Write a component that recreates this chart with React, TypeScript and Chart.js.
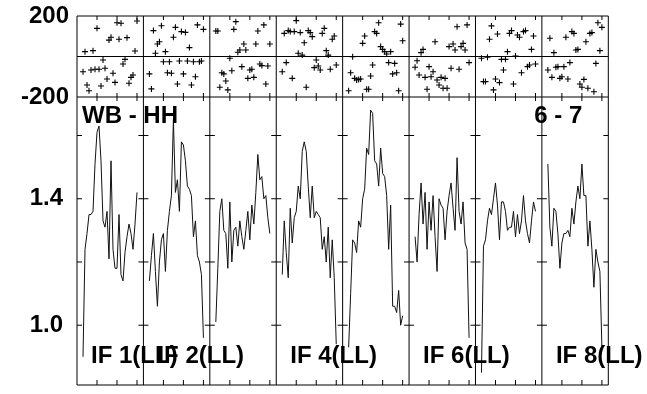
import React, { useEffect, useRef } from 'react';
import { Chart, registerables } from 'chart.js';

Chart.register(...registerables);

// ---- data ----
const PANEL_SPAN = 33.2; // channel units per IF panel
const CHANNELS = [3, 4, 5, 6, 7, 8, 9, 10, 11, 12, 13, 14, 15, 16, 17, 18, 19, 20, 21, 22, 23, 24, 25, 26, 27, 28, 29, 30];
const X_TICK_CHANNELS = [10, 20, 30];
const AMP_TICKS = [1.0, 1.2, 1.4, 1.6];
const AMP_LABELLED = [1.0, 1.4];
const AMP_MIN = 0.8109;
const AMP_MAX = 1.7218;
const PHASE_TICKS = [-200, 200];
const PHASE_MIN = -200;
const PHASE_MAX = 200;

const AMP_IF1 = [0.90, 1.24, 1.29, 1.35, 1.35, 1.36, 1.51, 1.61, 1.63, 1.52, 1.33, 1.31, 1.36, 1.21, 1.52, 1.24, 1.18, 1.18, 1.35, 1.16, 1.14, 1.23, 1.28, 1.32, 1.29, 1.24, 1.32, 1.42];
const AMP_IF2 = [1.14, 1.22, 1.29, 1.17, 1.06, 1.20, 1.27, 1.29, 1.17, 1.30, 1.36, 1.41, 1.65, 1.42, 1.46, 1.36, 1.58, 1.57, 1.52, 1.44, 1.43, 1.41, 1.28, 1.33, 1.22, 1.20, 1.16, 0.96];
const AMP_IF3 = [1.01, 1.18, 1.36, 1.40, 1.30, 1.29, 1.18, 1.39, 1.20, 1.30, 1.31, 1.25, 1.33, 1.28, 1.24, 1.30, 1.36, 1.27, 1.38, 1.32, 1.42, 1.54, 1.46, 1.47, 1.40, 1.41, 1.34, 1.29];
const AMP_IF4 = [1.16, 1.33, 1.23, 1.15, 1.37, 1.26, 1.34, 1.36, 1.44, 1.40, 1.55, 1.58, 1.55, 1.44, 1.34, 1.44, 1.34, 1.36, 1.35, 1.34, 1.24, 1.28, 1.20, 1.31, 1.15, 1.27, 1.15, 0.94];
const AMP_IF5 = [0.93, 1.10, 1.27, 1.26, 1.23, 1.33, 1.31, 1.40, 1.43, 1.56, 1.54, 1.68, 1.67, 1.52, 1.51, 1.44, 1.56, 1.48, 1.47, 1.41, 1.24, 1.38, 1.06, 1.06, 1.04, 1.11, 1.00, 1.03];
const AMP_IF6 = [1.28, 1.20, 1.35, 1.45, 1.32, 1.42, 1.24, 1.39, 1.30, 1.41, 1.28, 1.17, 1.40, 1.38, 1.37, 1.27, 1.36, 1.41, 1.45, 1.37, 1.30, 1.53, 1.36, 1.32, 1.39, 1.26, 1.24, 0.96];
const AMP_IF7 = [0.85, 1.25, 1.27, 1.33, 1.37, 1.35, 1.40, 1.45, 1.38, 1.27, 1.39, 1.39, 1.36, 1.30, 1.31, 1.31, 1.36, 1.28, 1.35, 1.29, 1.33, 1.41, 1.33, 1.29, 1.26, 1.33, 1.39, 1.36];
const AMP_IF8 = [1.51, 1.31, 1.25, 1.37, 1.36, 1.29, 1.18, 1.26, 1.29, 1.29, 1.30, 1.28, 1.37, 1.32, 1.39, 1.44, 1.40, 1.51, 1.41, 1.41, 1.25, 1.33, 1.24, 1.12, 1.24, 1.20, 1.17, 0.93];

const PHASE_IF1 = [-75, 24, -141, -169, -67, 29, -63, 139, -63, -146, -17, -58, -111, 81, 95, -83, -128, 167, 85, 164, -37, -14, 93, -132, -103, -91, 27, 175];
const PHASE_IF2 = [-86, -160, 128, 16, 62, 73, 152, -26, 24, -80, -26, -83, 95, 144, -136, -22, 123, -86, 119, -22, 44, -141, -26, -100, 156, -26, -22, 134];
const PHASE_IF3 = [126, 126, -152, -80, -86, -121, -165, -9, -70, 134, 172, 21, 32, -50, 62, 32, -108, -67, -63, -103, 62, 126, -37, -45, 156, -136, -47, 62];
const PHASE_IF4 = [-75, 114, -30, 128, 123, -108, 123, 177, 16, 118, 7, 68, -152, 128, 118, 98, -55, -17, -47, -67, 114, 139, 29, 7, -63, 85, 101, -42];
const PHASE_IF5 = [-169, -80, -1, -108, -116, -113, -111, 65, 101, -162, -162, -96, -42, 123, 114, 167, 49, 35, 24, 12, -30, 24, -86, -34, -80, -169, 160, 78];
const PHASE_IF6 = [-53, -21, -91, 19, 35, -103, -162, -50, -100, -75, 73, -116, -141, -103, -157, -108, -157, 49, -58, 62, 32, 147, -63, 49, 65, 32, 156, -30];
const PHASE_IF7 = [-9, -124, -124, -4, 85, 151, -165, -111, 111, -129, -14, -67, -14, 24, 114, 128, -136, 2, 106, 95, -80, 123, 128, -50, -42, 35, 101, -37];
const PHASE_IF8 = [-67, 90, -103, 19, -53, -50, -108, -100, -50, 95, -111, -30, 123, 114, 32, 35, -136, -152, -113, 73, -157, 114, 118, -174, -34, 167, 29, 144];

const AMPLITUDES = [AMP_IF1, AMP_IF2, AMP_IF3, AMP_IF4, AMP_IF5, AMP_IF6, AMP_IF7, AMP_IF8];
const PHASES = [PHASE_IF1, PHASE_IF2, PHASE_IF3, PHASE_IF4, PHASE_IF5, PHASE_IF6, PHASE_IF7, PHASE_IF8];

const IF_LABELS = ['IF 1(LL)', 'IF 2(LL)', 'IF 4(LL)', 'IF 6(LL)', 'IF 8(LL)'];
const IF_LABEL_PANELS = [0, 1, 3, 5, 7];
const BASELINE_LABEL = 'WB - HH';
const TIME_LABEL = '6 - 7';

const FONT_FAMILY = '"Liberation Sans", Arial, Helvetica, sans-serif';
const N_PANELS = 8;

const framePlugin = {
  id: 'possmFrame',
  afterDatasetsDraw(chart: any) {
    const ctx = chart.ctx;
    const xs = chart.scales.x;
    const yp = chart.scales.yPh;
    const ya = chart.scales.yAmp;
    const px = (v: number) => xs.getPixelForValue(v);
    const left = px(0);
    const right = px(N_PANELS * PANEL_SPAN);
    const pTop = yp.getPixelForValue(PHASE_MAX);
    const pBot = yp.getPixelForValue(PHASE_MIN);
    const aTop = ya.getPixelForValue(AMP_MAX);
    const aBot = ya.getPixelForValue(AMP_MIN);
    ctx.save();
    ctx.strokeStyle = '#000';
    ctx.lineWidth = 1;
    ctx.beginPath();
    // outer frames
    ctx.moveTo(left, pTop);
    ctx.lineTo(right, pTop);
    ctx.moveTo(left, pBot);
    ctx.lineTo(right, pBot);
    ctx.moveTo(left, aBot);
    ctx.lineTo(right, aBot);
    ctx.moveTo(left, pTop);
    ctx.lineTo(left, aBot);
    ctx.moveTo(right, pTop);
    ctx.lineTo(right, aBot);
    // panel separators
    for (let k = 1; k < N_PANELS; k++) {
      const x = px(k * PANEL_SPAN);
      ctx.moveTo(x, pTop);
      ctx.lineTo(x, aBot);
    }
    // zero phase line
    const z = yp.getPixelForValue(0);
    ctx.moveTo(left, z);
    ctx.lineTo(right, z);
    // x ticks
    for (let k = 0; k < N_PANELS; k++) {
      for (const c of X_TICK_CHANNELS) {
        const x = px(k * PANEL_SPAN + c);
        ctx.moveTo(x, pTop);
        ctx.lineTo(x, pTop + 4);
        ctx.moveTo(x, pBot - 4);
        ctx.lineTo(x, pBot + 4);
        ctx.moveTo(x, aBot - 5);
        ctx.lineTo(x, aBot);
      }
    }
    // y ticks on amplitude panel
    for (const v of AMP_TICKS) {
      const y = ya.getPixelForValue(v);
      for (let k = 0; k <= N_PANELS; k++) {
        const x = px(k * PANEL_SPAN);
        const x0 = k === 0 ? x : x - 5;
        const x1 = k === N_PANELS ? x : x + 5;
        ctx.moveTo(x0, y);
        ctx.lineTo(x1, y);
      }
    }
    ctx.stroke();

    // text annotations
    ctx.fillStyle = '#000';
    ctx.font = `bold 24px ${FONT_FAMILY}`;
    ctx.textBaseline = 'alphabetic';
    ctx.textAlign = 'left';
    ctx.fillText(BASELINE_LABEL, left + 5, aTop + 26);
    IF_LABELS.forEach((label, i) => {
      ctx.fillText(label, px(IF_LABEL_PANELS[i] * PANEL_SPAN) + 14, aBot - 22);
    });
    ctx.textAlign = 'right';
    ctx.fillText(TIME_LABEL, right - 26, aTop + 26);
    ctx.restore();
  },
};

export default function App() {
  const canvasRef = useRef<HTMLCanvasElement | null>(null);

  useEffect(() => {
    const canvas = canvasRef.current;
    if (!canvas) return;

    const datasets: any[] = [];
    AMPLITUDES.forEach((amp, k) => {
      datasets.push({
        type: 'scatter',
        label: `amp ${k + 1}`,
        data: CHANNELS.map((c, i) => ({ x: k * PANEL_SPAN + c, y: amp[i] })),
        yAxisID: 'yAmp',
        showLine: true,
        borderColor: '#111',
        borderWidth: 1,
        pointRadius: 0,
        tension: 0,
      });
    });
    PHASES.forEach((ph, k) => {
      datasets.push({
        type: 'scatter',
        label: `phase ${k + 1}`,
        data: CHANNELS.map((c, i) => ({ x: k * PANEL_SPAN + c, y: ph[i] })),
        yAxisID: 'yPh',
        showLine: false,
        pointStyle: 'cross',
        pointRadius: 3,
        borderColor: '#000',
        backgroundColor: '#000',
        pointBorderWidth: 1.1,
      });
    });

    const tickFont = { family: FONT_FAMILY, size: 24, weight: 'bold' as const };
    const fitY = (s: any) => {
      s.width = 77;
      s.paddingTop = 0;
      s.paddingBottom = 0;
    };

    const chart = new Chart(canvas, {
      type: 'scatter',
      data: { datasets },
      options: {
        responsive: false,
        animation: false,
        layout: { padding: { left: 0, top: 16, right: 38.7, bottom: 9 } },
        plugins: {
          legend: { display: false },
          tooltip: { enabled: false },
        },
        scales: {
          x: {
            type: 'linear',
            display: false,
            min: 0,
            max: N_PANELS * PANEL_SPAN,
          },
          yAmp: {
            type: 'linear',
            position: 'left',
            stack: 'possm',
            stackWeight: 288,
            min: AMP_MIN,
            max: AMP_MAX,
            grid: { display: false, drawTicks: false },
            border: { display: false },
            ticks: {
              color: '#000',
              font: tickFont,
              padding: 14,
              autoSkip: false,
              callback: (v: any) => (AMP_LABELLED.some((a) => Math.abs(a - v) < 1e-6) ? Number(v).toFixed(1) : ''),
            },
            afterBuildTicks: (s: any) => {
              s.ticks = AMP_TICKS.map((v) => ({ value: v }));
            },
            afterFit: fitY,
          },
          yPh: {
            type: 'linear',
            position: 'left',
            stack: 'possm',
            stackWeight: 81,
            min: PHASE_MIN,
            max: PHASE_MAX,
            grid: { display: false, drawTicks: false },
            border: { display: false },
            ticks: {
              color: '#000',
              font: tickFont,
              padding: 8,
              autoSkip: false,
              callback: (v: any) => String(v),
            },
            afterBuildTicks: (s: any) => {
              s.ticks = PHASE_TICKS.map((v) => ({ value: v }));
            },
            afterFit: fitY,
          },
        } as any,
      },
      plugins: [framePlugin],
    });

    return () => chart.destroy();
  }, []);

  return (
    <div style={{ position: 'absolute', left: 0, top: 0, width: 647, height: 394, background: '#fff' }}>
      <canvas ref={canvasRef} width={647} height={394} style={{ display: 'block', width: 647, height: 394 }} />
    </div>
  );
}
